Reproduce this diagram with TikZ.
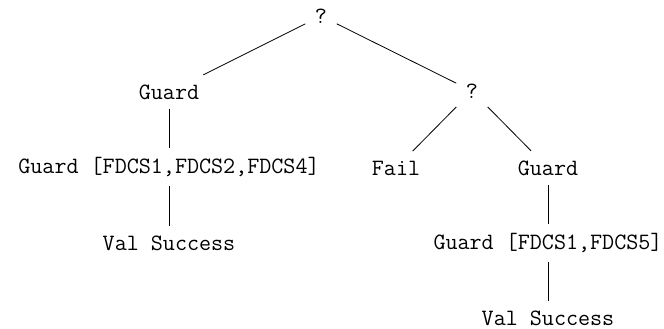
\documentclass[tikz,border=0pt]{standalone}
\usepackage{fontspec}
\begin{document}
\begin{tikzpicture}[x=1pt,y=1pt,
  tn/.style={inner sep=9.5pt,font=\fontsize{23.4}{28}\selectfont\ttfamily},
  edge/.style={line width=0.8pt}]
\useasboundingbox (0,0) rectangle (664,-329);
\node[tn] (root) at (321,-16) {?};
\node[tn] (g1) at (169,-92) {Guard};
\node[tn] (q2) at (472,-91) {?};
\node[tn] (g1a) at (169,-167) {Guard [FDCS1,FDCS2,FDCS4]};
\node[tn] (vs1) at (169,-243) {Val Success};
\node[tn] (fail) at (396,-168) {Fail};
\node[tn] (g2) at (548,-168) {Guard};
\node[tn] (g2a) at (548,-243) {Guard [FDCS1,FDCS5]};
\node[tn] (vs2) at (548,-318) {Val Success};
\draw[edge] (root) -- (g1);
\draw[edge] (root) -- (q2);
\draw[edge] (g1) -- (g1a);
\draw[edge] (g1a) -- (vs1);
\draw[edge] (q2) -- (fail);
\draw[edge] (q2) -- (g2);
\draw[edge] (g2) -- (g2a);
\draw[edge] (g2a) -- (vs2);
\end{tikzpicture}
\end{document}
